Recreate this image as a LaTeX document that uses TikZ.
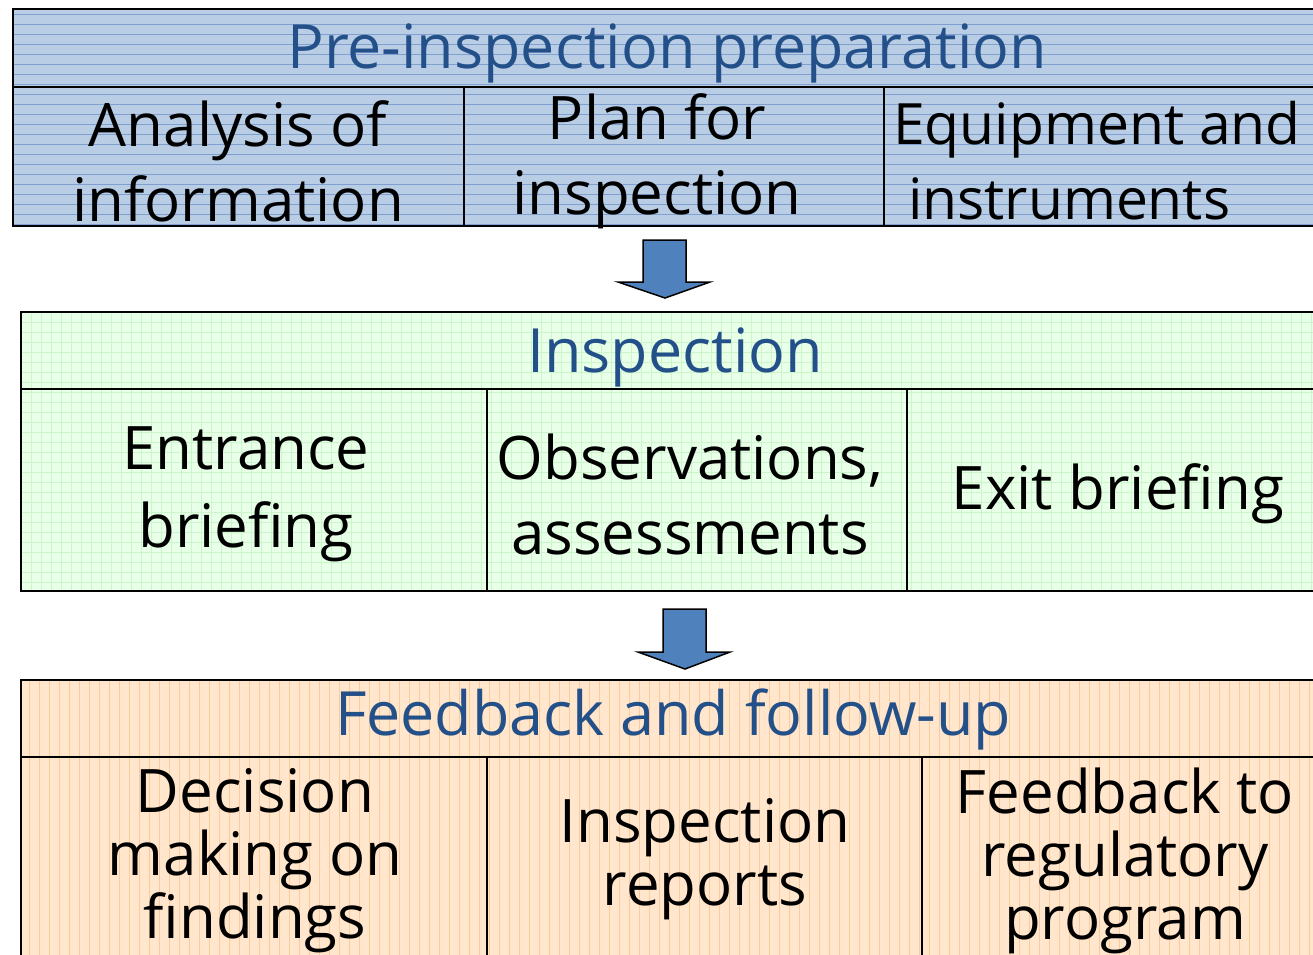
\documentclass[tikz,border=0pt]{standalone}
\usepackage{fontspec}
\setmainfont{Open Sans}
\begin{document}
\begin{tikzpicture}[x=1pt,y=-1pt,
  cell/.style={draw=black,line width=1.6pt},
  big/.style={font=\fontsize{60}{75}\selectfont,align=center,inner sep=0pt},
  tight/.style={font=\fontsize{60}{63}\selectfont},
  ttl/.style={font=\fontsize{61}{70}\selectfont,text=ttlblue,inner sep=0pt},
  barrow/.style={draw=black,line width=1.5pt,fill=arrowblue,line join=miter}]
\definecolor{ttlblue}{HTML}{24508A}
\definecolor{bluefill}{HTML}{B9CDE5}
\definecolor{blueline}{HTML}{7FA0D0}
\definecolor{greenfill}{HTML}{E8FFE8}
\definecolor{greenline}{HTML}{CCF5CC}
\definecolor{orangefill}{HTML}{FFE6CC}
\definecolor{orangeline}{HTML}{F8CC9E}
\definecolor{arrowblue}{HTML}{4F81BD}
\useasboundingbox (0,0) rectangle (1313,954);
% ---------- block 1 ----------
\fill[bluefill] (13,9) rectangle (1320,226);
\begin{scope}
\clip (13,9) rectangle (1320,226);
\foreach \y in {14,24,...,226} \draw[blueline,line width=0.6pt] (13,\y) -- (1320,\y);
\end{scope}
\draw[cell] (13,9) rectangle (1320,87);
\draw[cell] (13,87) rectangle (464,226);
\draw[cell] (464,87) rectangle (884,226);
\draw[cell] (884,87) rectangle (1320,226);
\node[ttl] (t1) at (667,53) {Pre-inspection preparation};
\node[big] (a1) at (238,161) {Analysis of\\information};
\node[big] (a2) at (657,161) {Plan for\\inspection};
\node[big,anchor=west,align=left,font=\fontsize{57}{75}\selectfont] (a3) at (893,161) {Equipment and\\\ instruments};
% ---------- arrow 1 ----------
\draw[barrow] (643,240) -- (686,240) -- (686,282) -- (710,282) -- (665,298) -- (618,282) -- (643,282) -- cycle;
% ---------- block 2 ----------
\fill[greenfill] (21,312) rectangle (1320,591);
\begin{scope}
\clip (21,312) rectangle (1320,591);
\foreach \x in {31,41,...,1320} \draw[greenline,line width=0.6pt] (\x,312) -- (\x,591);
\foreach \y in {322,332,...,591} \draw[greenline,line width=0.6pt] (21,\y) -- (1320,\y);
\end{scope}
\draw[cell] (21,312) rectangle (1320,389);
\draw[cell] (21,389) rectangle (487,591);
\draw[cell] (487,389) rectangle (907,591);
\draw[cell] (907,389) rectangle (1320,591);
\node[ttl] (t2) at (675,357) {Inspection};
\node[big,font=\fontsize{60}{78}\selectfont] (b1) at (246,494) {Entrance\\briefing};
\node[big,font=\fontsize{60}{75}\selectfont] (b2) at (690,494) {Observations,\\assessments};
\node[big] (b3) at (1118,494) {Exit briefing};
% ---------- arrow 2 ----------
\draw[barrow] (663,609) -- (706,609) -- (706,652) -- (730,652) -- (685,669) -- (638,652) -- (663,652) -- cycle;
% ---------- block 3 ----------
\fill[orangefill] (21,680) rectangle (1320,960);
\begin{scope}
\clip (21,680) rectangle (1320,960);
\foreach \x in {29,39,...,1320} \draw[orangeline,line width=0.6pt] (\x,680) -- (\x,960);
\end{scope}
\draw[cell] (21,680) rectangle (1320,757);
\draw[cell] (21,757) rectangle (487,960);
\draw[cell] (487,757) rectangle (922,960);
\draw[cell] (922,757) rectangle (1320,960);
\node[ttl] (t3) at (673,719) {Feedback and follow-up};
\node[big,tight] (c1) at (255,861) {Decision\\making on\\findings};
\node[big,tight] (c2) at (705,859) {Inspection\\reports};
\node[big,tight] (c3) at (1125,861) {Feedback to\\regulatory\\program};
\end{tikzpicture}
\end{document}
